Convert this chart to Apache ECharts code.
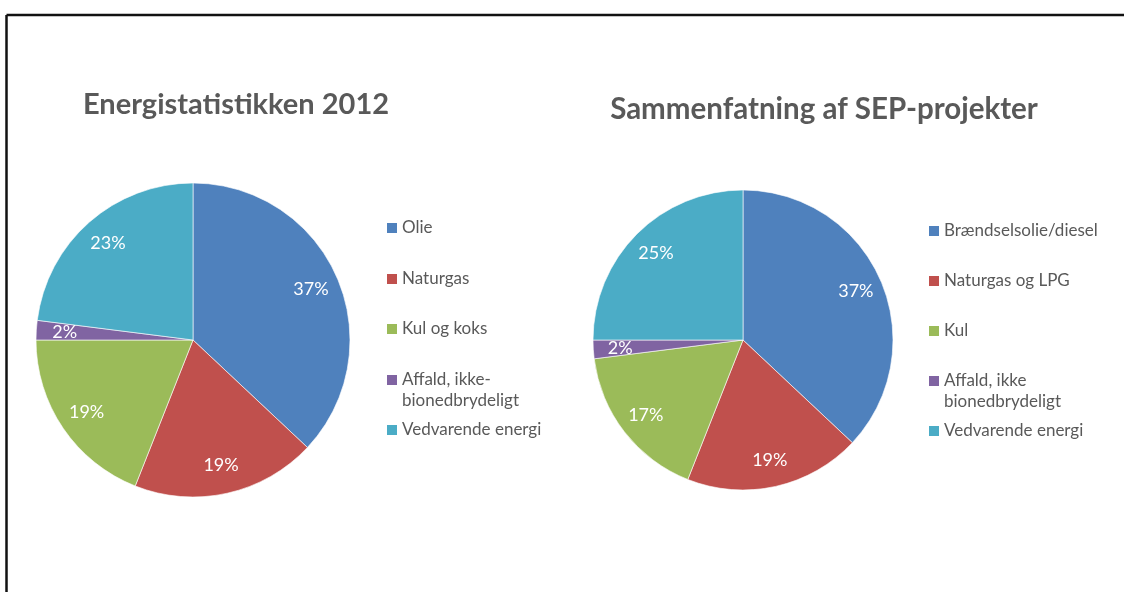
<!DOCTYPE html>
<html>
<head>
<meta charset="utf-8">
<title>Energiforbrug fordelt på brændsler</title>
<script src="https://cdn.jsdelivr.net/npm/echarts@6/dist/echarts.min.js"></script>
<style>
  html, body { margin: 0; padding: 0; background: #fff; }
  #chart { width: 1124px; height: 592px; }
</style>
</head>
<body>
<div id="chart"></div>
<script>
// Energistatistikken 2012
const categoriesLeft = ['Olie', 'Naturgas', 'Kul og koks', 'Affald, ikke-\nbionedbrydeligt', 'Vedvarende energi'];
const valuesLeft = [37, 19, 19, 2, 23];

// Sammenfatning af SEP-projekter
const categoriesRight = ['Brændselsolie/diesel', 'Naturgas og LPG', 'Kul', 'Affald, ikke\nbionedbrydeligt', 'Vedvarende energi'];
const valuesRight = [37, 19, 17, 2, 25];

const titleLeft = 'Energistatistikken 2012';
const titleRight = 'Sammenfatning af SEP-projekter';

const palette = ['#4F81BD', '#C0504D', '#9BBB59', '#8064A2', '#4BACC6'];
const FONT = 'Lato, "Open Sans", sans-serif';
const TEXT_GREY = '#595959';

const chart = echarts.init(document.getElementById('chart'), null, { renderer: 'canvas' });

function toData(names, values) {
  return names.map((n, i) => ({ name: n, value: values[i] }));
}

// one pie drawn solid, plus a transparent ring that only carries the % labels
function pieSeries(names, values, center, radius) {
  const data = toData(names, values);
  return [
    {
      type: 'pie',
      center: center,
      radius: radius,
      startAngle: 90,
      clockwise: true,
      silent: true,
      label: { show: false },
      labelLine: { show: false },
      itemStyle: { borderColor: '#ffffff', borderWidth: 0.6 },
      data: data
    },
    {
      type: 'pie',
      center: center,
      radius: [radius * 0.6, radius],
      startAngle: 90,
      clockwise: true,
      silent: true,
      itemStyle: { color: 'transparent' },
      label: {
        show: true,
        position: 'inside',
        formatter: '{c}%',
        color: '#ffffff',
        fontFamily: FONT,
        fontSize: 18
      },
      labelLine: { show: false },
      data: data
    }
  ];
}

// each legend entry placed on its own row; the two-line entry gets an
// empty leading line so its marker sits level with the first text line
function legends(names, left, rows) {
  return names.map((n, i) => {
    const twoLine = n.indexOf('\n') >= 0;
    return {
      data: [n],
      left: left,
      top: twoLine ? rows[i] - 31.5 : rows[i] - 10.5,
      orient: 'vertical',
      padding: 0,
      icon: 'rect',
      itemWidth: 10,
      itemHeight: 10,
      itemGap: 0,
      selectedMode: false,
      itemStyle: { borderWidth: 0 },
      formatter: twoLine ? (name) => '\n' + name : '{name}',
      textStyle: {
        color: TEXT_GREY,
        fontFamily: FONT,
        fontSize: 17,
        lineHeight: 21
      }
    };
  });
}

const option = {
  backgroundColor: '#ffffff',
  color: palette,
  animation: false,
  title: [
    {
      text: titleLeft,
      left: 231, top: 100, textAlign: 'center', textVerticalAlign: 'middle',
      textStyle: { color: TEXT_GREY, fontFamily: FONT, fontWeight: 'bold', fontSize: 29 }
    },
    {
      text: titleRight,
      left: 819, top: 104, textAlign: 'center', textVerticalAlign: 'middle',
      textStyle: { color: TEXT_GREY, fontFamily: FONT, fontWeight: 'bold', fontSize: 29.5 }
    }
  ],
  legend: [
    ...legends(categoriesLeft, 387, [228, 279, 329, 380, 430]),
    ...legends(categoriesRight, 929, [231, 281, 331, 381, 431])
  ],
  series: [
    ...pieSeries(categoriesLeft, valuesLeft, [193, 340], 157),
    ...pieSeries(categoriesRight, valuesRight, [743, 340], 150)
  ],
  graphic: [
    { type: 'line', shape: { x1: 6.5, y1: 15, x2: 1124, y2: 15 }, style: { stroke: '#111', lineWidth: 2.5 }, silent: true },
    { type: 'line', shape: { x1: 6.5, y1: 15, x2: 6.5, y2: 592 }, style: { stroke: '#111', lineWidth: 2.5 }, silent: true }
  ]
};

chart.setOption(option);
</script>
</body>
</html>
